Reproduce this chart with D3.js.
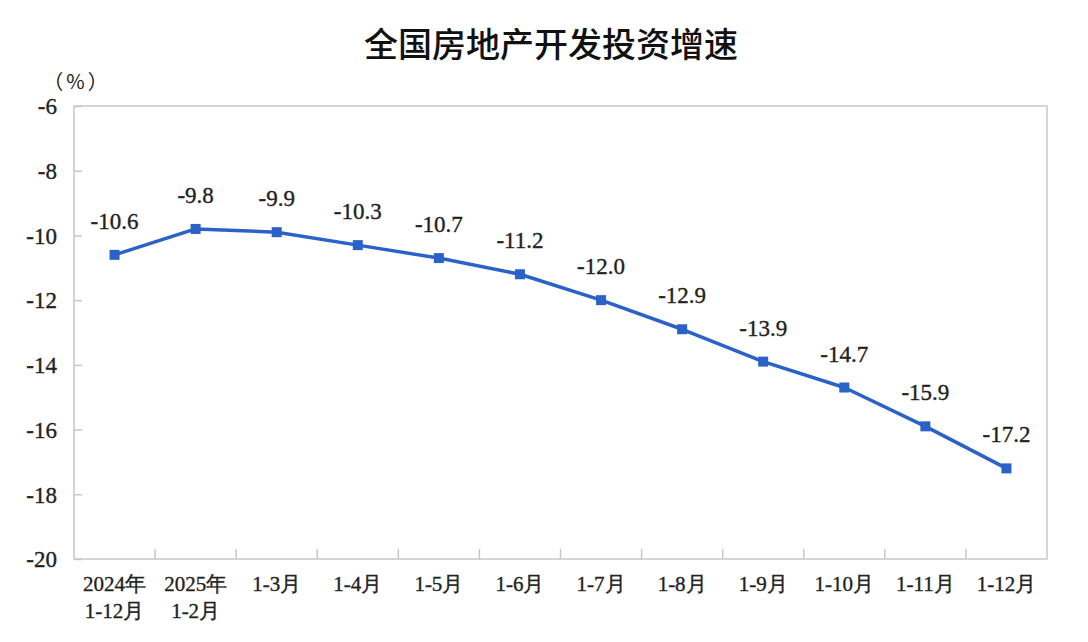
<!DOCTYPE html>
<html><head><meta charset="utf-8">
<script src="https://cdn.jsdelivr.net/npm/d3@7"></script>
<style>
html,body{margin:0;padding:0;background:#fff;}
svg{display:block;}
.serif{font-family:"Liberation Serif","DejaVu Serif","Times New Roman",serif;stroke:#222;stroke-width:0.35px;}
.cjk{font-family:"Noto Sans CJK SC",sans-serif;}
</style></head>
<body>
<svg id="chart" width="1088" height="642"></svg>
<script>
const title = "全国房地产开发投资增速";
const unitLabel = "（%）";
const categories = [["2024年","1-12月"],["2025年","1-2月"],["1-3月"],["1-4月"],["1-5月"],["1-6月"],["1-7月"],["1-8月"],["1-9月"],["1-10月"],["1-11月"],["1-12月"]];
const values = [-10.6, -9.8, -9.9, -10.3, -10.7, -11.2, -12.0, -12.9, -13.9, -14.7, -15.9, -17.2];
const yTicks = [-6, -8, -10, -12, -14, -16, -18, -20];

(function(){
const svg = d3.select("#chart");
const pL = 74, pR = 1047, pT = 106, pB = 559;
const lineColor = "#2b62c8";
const frameColor = "#c8c8c8";
const textColor = "#222";

const x = d3.scaleBand().domain(d3.range(categories.length)).range([pL, pR]).paddingInner(0).paddingOuter(0);
const y = d3.scaleLinear().domain([-20, -6]).range([pB, pT]);

// title
svg.append("text").attr("class", "cjk").attr("x", 551).attr("y", 57).attr("text-anchor", "middle")
  .attr("font-size", 34).attr("font-weight", 500)
  .attr("fill", "#111").text(title);

// unit
svg.append("text").attr("class", "cjk").attr("x", 77).attr("y", 89).attr("text-anchor", "middle")
  .attr("font-size", 20).attr("letter-spacing", 3).attr("fill", textColor).text(unitLabel);

// frame
svg.append("rect").attr("x", pL).attr("y", pT).attr("width", pR - pL).attr("height", pB - pT)
  .attr("fill", "none").attr("stroke", frameColor).attr("stroke-width", 1.5);

// y axis
const yAxis = d3.axisLeft(y).tickValues(yTicks).tickSize(-8).tickPadding(16).tickFormat(d => String(d));
const gy = svg.append("g").attr("transform", `translate(${pL},0)`).call(yAxis);
gy.attr("font-family", null);
gy.select(".domain").remove();
gy.selectAll(".tick line").attr("stroke", frameColor).attr("stroke-width", 1.5);
gy.selectAll(".tick text").attr("class", "serif").attr("font-size", 23).attr("fill", textColor).attr("x", -17).attr("dy", "0.34em");

// x axis ticks at band boundaries
const boundaries = d3.range(1, categories.length).map(i => x(i));
svg.append("g").selectAll("line").data(boundaries).join("line")
  .attr("x1", d => d).attr("x2", d => d).attr("y1", pB).attr("y2", pB - 10)
  .attr("stroke", frameColor).attr("stroke-width", 1.5);

// x labels
const xl = svg.append("g").selectAll("text").data(categories).join("text")
  .attr("class", "serif")
  .attr("x", (d, i) => x(i) + x.bandwidth() / 2)
  .attr("y", 591).attr("text-anchor", "middle")
  .attr("font-size", 21).attr("fill", textColor);
xl.each(function(d) {
  const t = d3.select(this);
  d.forEach((s, j) => {
    t.append("tspan").attr("x", t.attr("x")).attr("dy", j === 0 ? 0 : 27).text(s);
  });
});

// line
const cx = (d, i) => x(i) + x.bandwidth() / 2;
const line = d3.line().x((d, i) => cx(d, i)).y(d => y(d));
svg.append("path").datum(values).attr("d", line).attr("fill", "none")
  .attr("stroke", lineColor).attr("stroke-width", 3.5).attr("stroke-linejoin", "round");

// markers
svg.append("g").selectAll("rect").data(values).join("rect")
  .attr("x", (d, i) => cx(d, i) - 5).attr("y", d => y(d) - 5)
  .attr("width", 10).attr("height", 10).attr("fill", lineColor);

// data labels
svg.append("g").selectAll("text").data(values).join("text")
  .attr("class", "serif")
  .attr("x", (d, i) => cx(d, i)).attr("y", d => y(d) - 26)
  .attr("text-anchor", "middle").attr("font-size", 23)
  .attr("fill", textColor).text(d => d.toFixed(1));
})();
</script>
</body></html>
